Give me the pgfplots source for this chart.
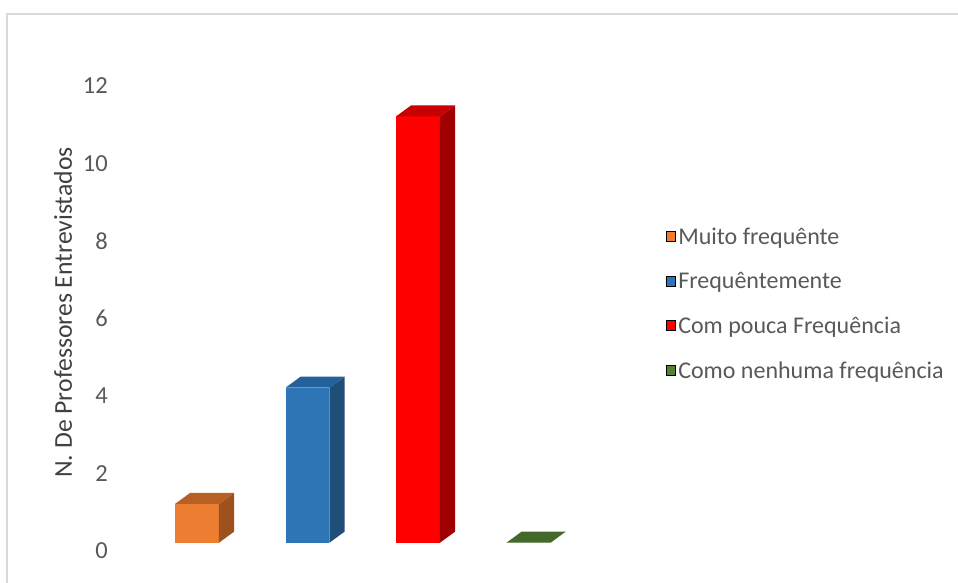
\documentclass[border=0pt]{standalone}
\usepackage{fontspec}
\setmainfont{Carlito}
\usepackage{pgfplots}
\pgfplotsset{compat=1.18}

\definecolor{orF}{HTML}{ED7D31}
\definecolor{orT}{HTML}{B86024}
\definecolor{orS}{HTML}{9C511F}
\definecolor{blF}{HTML}{2E75B6}
\definecolor{blT}{HTML}{24609A}
\definecolor{blS}{HTML}{1F4E79}
\definecolor{rdF}{HTML}{FF0000}
\definecolor{rdT}{HTML}{C80000}
\definecolor{rdS}{HTML}{A00000}
\definecolor{grF}{HTML}{548235}
\definecolor{grT}{HTML}{43692A}
\definecolor{grS}{HTML}{38591F}
\definecolor{txt}{HTML}{595959}
\definecolor{ttl}{HTML}{404040}
\definecolor{frame}{HTML}{D9D9D9}

% one 3-D column: #1 category, #2 value, #3 front, #4 top, #5 side
\newcommand{\column}[5]{%
  \pgfmathsetmacro\xl{#1-0.199}%
  \pgfmathsetmacro\xr{#1+0.199}%
  \pgfmathsetmacro\xlb{#1-0.199+0.136}%
  \pgfmathsetmacro\xrb{#1+0.199+0.136}%
  \pgfmathsetmacro\vt{#2+0.284}%
  \addplot[fill=#3, draw=none, forget plot] coordinates {(\xl,0) (\xr,0) (\xr,#2) (\xl,#2)} --cycle;
  \addplot[fill=#5, draw=none, forget plot] coordinates {(\xr,0) (\xrb,0.284) (\xrb,\vt) (\xr,#2)} --cycle;
  \addplot[fill=#4, draw=none, forget plot] coordinates {(\xl,#2) (\xr,#2) (\xrb,\vt) (\xlb,\vt)} --cycle;
}

\begin{document}
\begin{tikzpicture}
\useasboundingbox (0bp,0bp) rectangle (958bp,583bp);
\draw[frame, line width=1.3bp] (7bp,0bp) -- (7bp,569bp) -- (958bp,569bp);
\begin{axis}[
  at={(119.65bp,40.3bp)}, anchor=south west,
  x=110.5bp, y=38.75bp,
  xmin=-0.7, xmax=3.8, ymin=0, ymax=12.6,
  clip=false,
  axis line style={draw=none},
  tick style={draw=none},
  xtick=\empty,
  ytick={0,2,...,12},
  /pgf/number format/assume math mode=true,
  yticklabel style={font=\fontsize{24.5bp}{28bp}\selectfont, text=txt,
    inner sep=0pt, xshift=-11.65bp, yshift=-8.3bp},
  ylabel={N. De Professores Entrevistados},
  every axis y label/.style={at={(-0.1139,0.4715)}, rotate=90, anchor=center,
    font=\fontsize{25.7bp}{30bp}\selectfont, text=ttl},
  legend image code/.code={\fill[#1] (0bp,-3bp) rectangle (9bp,7bp);},
  legend style={at={(axis cs:4.2416,6.13)}, anchor=west, draw=none, fill=none,
    inner sep=0pt, row sep=20.6bp,
    font=\fontsize{24bp}{28bp}\selectfont, text=txt,
    nodes={inner sep=0pt, text height=18bp, text depth=6bp},
    cells={anchor=west}},
]
\column{0}{1}{orF}{orT}{orS}
\column{1}{4}{blF}{blT}{blS}
\column{2}{11}{rdF}{rdT}{rdS}
\column{3}{0}{grF}{grT}{grS}
\addlegendimage{fill=orF}\addlegendentry{\hspace{3bp}Muito frequênte}
\addlegendimage{fill=blF}\addlegendentry{\hspace{3bp}Frequêntemente}
\addlegendimage{fill=rdF}\addlegendentry{\hspace{3bp}Com pouca Frequência}
\addlegendimage{fill=grF}\addlegendentry{\hspace{3bp}Como nenhuma frequência}
\end{axis}
\end{tikzpicture}
\end{document}
